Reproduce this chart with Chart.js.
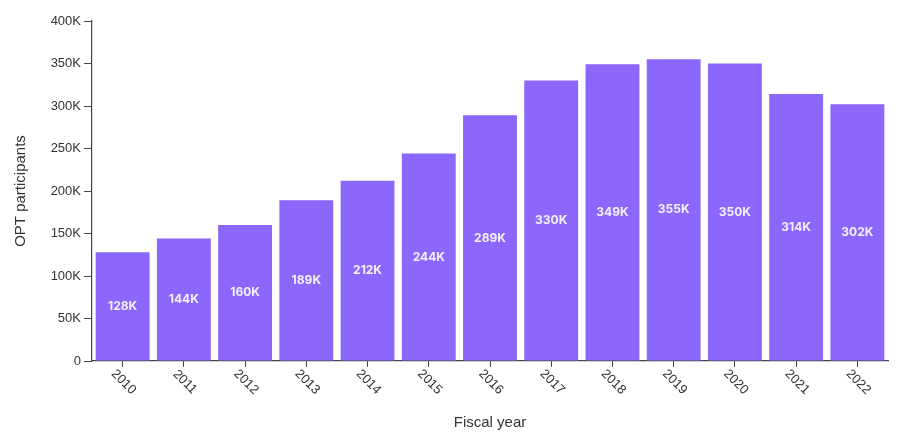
<!DOCTYPE html>
<html>
<head>
<meta charset="utf-8">
<script src="https://cdn.jsdelivr.net/npm/chart.js@4.4.1/dist/chart.umd.min.js"></script>
<style>
html,body{margin:0;padding:0;background:#fff;}
#wrap{width:900px;height:441px;position:relative;}
</style>
</head>
<body>
<div id="wrap"><canvas id="c" width="900" height="441"></canvas></div>
<script>
const years = ['2010','2011','2012','2013','2014','2015','2016','2017','2018','2019','2020','2021','2022'];
const participants = [128000,144000,160000,189000,212000,244000,289000,330000,349000,355000,350000,314000,302000];
const valueLabels = ['128K','144K','160K','189K','212K','244K','289K','330K','349K','355K','350K','314K','302K'];
const yTicks = [0,50000,100000,150000,200000,250000,300000,350000,400000];
const yTickLabels = ['0','50K','100K','150K','200K','250K','300K','350K','400K'];
const xTitle = 'Fiscal year';
const yTitle = 'OPT participants';

const AXIS = '#444';
const TEXT = '#333';

const customDraw = {
  id: 'customDraw',
  afterDatasetsDraw(chart) {
    const ctx = chart.ctx;
    const meta = chart.getDatasetMeta(0);
    ctx.save();
    ctx.fillStyle = '#f4f1ff';
    ctx.font = 'bold 12px Inter, "Noto Sans", sans-serif';
    ctx.textAlign = 'center';
    ctx.textBaseline = 'middle';
    meta.data.forEach((bar, i) => {
      const p = bar.getProps(['x','y','base'], true);
      ctx.fillText(valueLabels[i], p.x, (p.y + p.base) / 2);
    });
    ctx.restore();
  },
  afterDraw(chart) {
    const ctx = chart.ctx;
    const xs = chart.scales.x;
    const area = chart.chartArea;
    ctx.save();
    ctx.fillStyle = TEXT;
    ctx.font = '13px "Liberation Sans", Arial, sans-serif';
    ctx.textAlign = 'center';
    ctx.textBaseline = 'middle';
    years.forEach((y, i) => {
      const px = xs.getPixelForTick(i);
      ctx.save();
      ctx.translate(px + 1, area.bottom + 21);
      ctx.rotate(Math.PI / 4);
      ctx.fillText(y, 0, 0);
      ctx.restore();
    });
    ctx.font = '15px "Liberation Sans", Arial, sans-serif';
    ctx.fillText(xTitle, (xs.left + xs.right) / 2, 423);
    ctx.save();
    ctx.translate(21, (area.top + area.bottom) / 2);
    ctx.rotate(-Math.PI / 2);
    ctx.fillText(yTitle, 0, 0);
    ctx.restore();
    ctx.restore();
  }
};

new Chart(document.getElementById('c'), {
  type: 'bar',
  data: {
    labels: years,
    datasets: [{
      data: participants,
      backgroundColor: '#8b67fc',
      borderWidth: 0,
      categoryPercentage: 1,
      barPercentage: 0.88
    }]
  },
  options: {
    responsive: false,
    animation: false,
    devicePixelRatio: 1,
    layout: { padding: { top: 21, right: 12, bottom: 0, left: 0 } },
    plugins: { legend: { display: false }, tooltip: { enabled: false } },
    scales: {
      x: {
        offset: true,
        afterFit(scale) { scale.height = 80; },
        grid: { display: true, offset: false, drawOnChartArea: false, drawTicks: true, tickLength: 6, color: AXIS, lineWidth: 1 },
        border: { display: true, color: AXIS, width: 1.2 },
        ticks: { display: false }
      },
      y: {
        min: 0,
        max: 400000,
        afterFit(scale) { scale.width = 92; },
        afterBuildTicks(scale) { scale.ticks = yTicks.map(v => ({ value: v })); },
        grid: { display: true, drawOnChartArea: false, drawTicks: true, tickLength: 8, color: AXIS, lineWidth: 1 },
        border: { display: true, color: AXIS, width: 1.2 },
        ticks: {
          padding: 3,
          color: TEXT,
          font: { size: 13, family: '"Liberation Sans", Arial, sans-serif' },
          callback(value) { const i = yTicks.indexOf(value); return i >= 0 ? yTickLabels[i] : ''; }
        }
      }
    }
  },
  plugins: [customDraw]
});
</script>
</body>
</html>
